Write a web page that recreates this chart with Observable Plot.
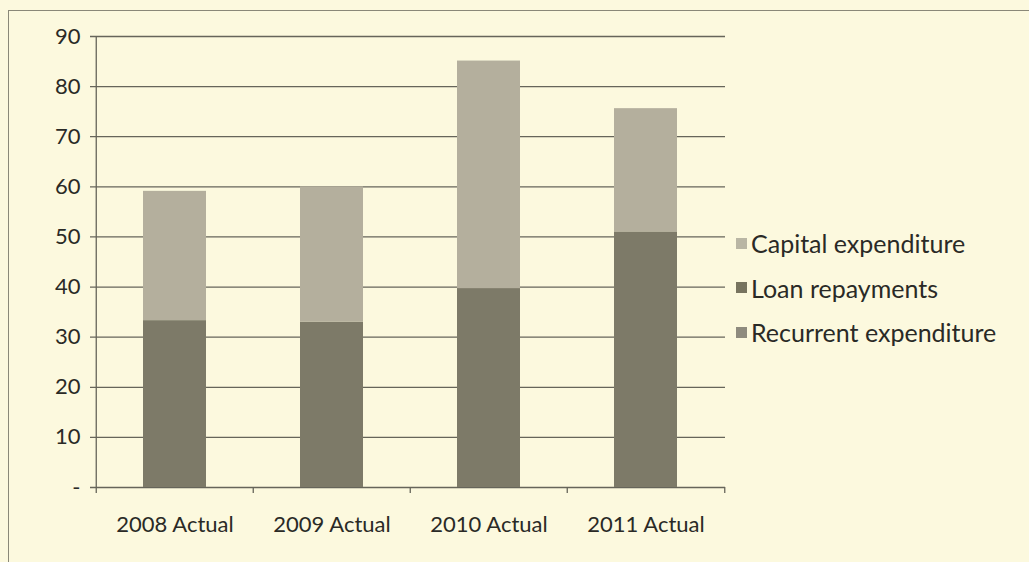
<!DOCTYPE html>
<html>
<head>
<meta charset="utf-8">
<script src="https://cdn.jsdelivr.net/npm/d3@7"></script>
<script src="https://cdn.jsdelivr.net/npm/@observablehq/plot@0.6"></script>
<style>
  html, body { margin: 0; padding: 0; background: #fcf9de; }
  #wrap { position: relative; width: 1029px; height: 562px; overflow: hidden; }
  #frame { position: absolute; left: 8px; top: 10px; width: 1040px; height: 600px;
           border-left: 1px solid #8a8878; border-top: 1px solid #8a8878; }
  #chart { position: absolute; left: 0; top: 0; }
  #legend { position: absolute; left: 736px; top: 221px; font-family: Lato, "Open Sans", sans-serif;
            font-size: 25px; color: #2a2a26; }
  .item { display: flex; align-items: center; height: 44.5px; }
  .sw { width: 11px; height: 11px; margin-right: 4px; }
</style>
</head>
<body>
<div id="wrap">
  <div id="frame"></div>
  <div id="chart"></div>
  <div id="legend"></div>
</div>
<script>
const categories = ["2008 Actual", "2009 Actual", "2010 Actual", "2011 Actual"];
const recurrent = [33.3, 33.0, 39.7, 51.0];
const loan = [0, 0, 0, 0];
const capital = [25.8, 27.0, 45.4, 24.6];
const series = ["Recurrent expenditure", "Loan repayments", "Capital expenditure"];
const colors = ["#7d7a68", "#6f6c5c", "#b4af9d"];
const yTicks = [0, 10, 20, 30, 40, 50, 60, 70, 80, 90];
const legendOrder = ["Capital expenditure", "Loan repayments", "Recurrent expenditure"];
const legendColors = ["#b9b6a4", "#77745f", "#8e8b7e"];

const data = [];
const values = [recurrent, loan, capital];
series.forEach((s, si) => categories.forEach((c, ci) => data.push({category: c, series: s, value: values[si][ci]})));

const width = 1029, height = 562;
const marginLeft = 95, marginRight = 304, marginTop = 36, marginBottom = 75;
const bw = (width - marginLeft - marginRight) / categories.length;
const grid = "#66655a";

const chart = Plot.plot({
  width, height, marginLeft, marginRight, marginTop, marginBottom,
  style: {background: "transparent", fontFamily: "Lato, 'Open Sans', sans-serif", fontSize: "22px", color: "#2a2a26"},
  x: {domain: categories, paddingInner: 0.6, paddingOuter: 0.3, label: null},
  y: {domain: [0, 90], label: null},
  color: {domain: series, range: colors},
  marks: [
    Plot.ruleY(yTicks, {stroke: grid, strokeWidth: 1.3, insetLeft: -5}),
    Plot.ruleX([0], {x: () => categories[0], dx: -bw/2, y1: 0, y2: 90, stroke: grid, strokeWidth: 1.3}),
    Plot.barY(data, {x: "category", y: "value", fill: "series", order: series}),
    Plot.ruleX(categories, {x: d => d, dx: -bw/2, y1: 0, y2: 0, insetBottom: -6, stroke: grid, strokeWidth: 1.3}),
    Plot.ruleX([categories[categories.length-1]], {x: d => d, dx: bw/2, y1: 0, y2: 0, insetBottom: -6, stroke: grid, strokeWidth: 1.3}),
    Plot.axisY({ticks: yTicks, tickSize: 0, tickPadding: 15, tickFormat: d => d === 0 ? "-" : String(d), fontSize: 22}),
    Plot.axisX({tickSize: 0, tickPadding: 29, fontSize: 22})
  ]
});
document.getElementById("chart").appendChild(chart);

const legend = document.getElementById("legend");
legendOrder.forEach((s, i) => {
  const it = document.createElement("div");
  it.className = "item";
  const sw = document.createElement("div");
  sw.className = "sw";
  sw.style.background = legendColors[i];
  const t = document.createElement("span");
  t.textContent = s;
  it.appendChild(sw); it.appendChild(t);
  legend.appendChild(it);
});
</script>
</body>
</html>
